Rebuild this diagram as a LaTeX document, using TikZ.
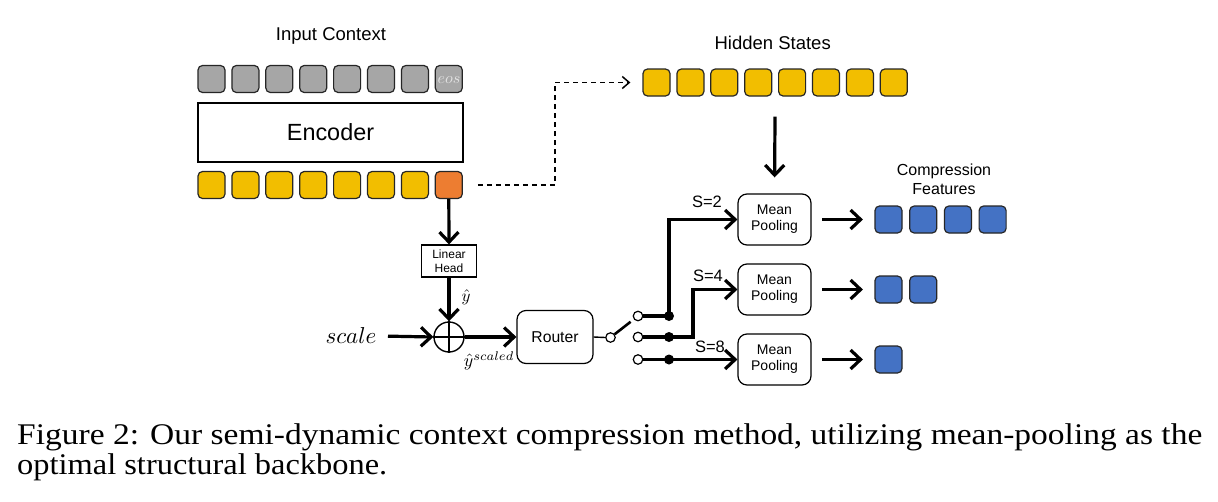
\documentclass[tikz,border=0pt]{standalone}
\usepackage{fontspec}
\setsansfont{Liberation Sans}
\newfontfamily\capfont{Liberation Serif}
\usepackage{graphicx}
\usetikzlibrary{arrows.meta}
\usetikzlibrary{calc}

\definecolor{tokgray}{RGB}{166,166,166}
\definecolor{tokyellow}{RGB}{242,190,0}
\definecolor{tokorange}{RGB}{237,125,49}
\definecolor{tokblue}{RGB}{68,114,196}

\begin{document}
\begin{tikzpicture}[x=1pt,y=-1pt,
  tok/.style={draw=black!85,line width=1.2pt,rounded corners=4.5pt,minimum size=27pt,inner sep=0pt},
  rbox/.style={draw,line width=1.2pt,rounded corners=9pt,align=center,inner sep=0pt,font=\sffamily\fontsize{14}{16}\selectfont},
  lbl/.style={font=\sffamily\fontsize{18.5}{22}\selectfont},
  slbl/.style={font=\sffamily\fontsize{16.5}{19}\selectfont},
  conn/.style={line width=3.2pt},
  arr/.style={conn,-{Straight Barb[length=10pt,width=19pt]}},
  dasharr/.style={line width=1.5pt,dash pattern=on 5pt off 4pt,-{Straight Barb[length=7pt,width=12pt]}},
  port/.style={circle,draw,fill=white,line width=1.2pt,minimum size=9.5pt,inner sep=0pt},
  joint/.style={circle,fill=black,minimum size=10pt,inner sep=0pt},
]
\useasboundingbox (0,0) rectangle (1218,501);
\fill[white] (0,0) rectangle (1218,501);

% encoder side
\node[lbl] (inctx) at (331,36) {Input Context};
\foreach \i in {1,...,8}
    \node[tok,fill=tokgray] (g\i) at ({211.5+33.9*(\i-1)},79) {};
\node[text=white!78!gray] (eos) at (449,80) {\scalebox{1.6}{$eos$}};

\node[draw,line width=1.4pt,minimum width=265pt,minimum height=59pt,inner sep=0pt,
      font=\sffamily\fontsize{23.4}{28}\selectfont] (enc) at (330.5,132.5) {Encoder};

\foreach \i in {1,...,7}
    \node[tok,fill=tokyellow] (e\i) at ({211.5+33.9*(\i-1)},185) {};
\node[tok,fill=tokorange] (e8) at (448.8,185) {};

% hidden states
\node[lbl] (hidlbl) at (772.7,42.7) {Hidden States};
\foreach \i in {1,...,8}
    \node[tok,fill=tokyellow] (h\i) at ({656.5+33.9*(\i-1)},82.5) {};

\coordinate (dashturn) at (555,82.5);
\draw[dasharr,shorten <=15pt,shorten >=12pt] (e8.east) -| (dashturn) -- (h1.west);

% head and scaling
\node[draw,line width=1.2pt,minimum width=55pt,minimum height=32pt,inner sep=0pt,align=center,
      font=\sffamily\fontsize{12}{14}\selectfont] (lin) at (449,261) {Linear\\Head};
\node[circle,draw,line width=1.4pt,minimum size=30pt,inner sep=0pt] (sum) at (449,337) {};
\draw[line width=1.2pt] (sum.north) -- (sum.south) (sum.west) -- (sum.east);

\node (scl) at (351,336) {\scalebox{2.3}{$scale$}};
\node (yh) at (466,297) {\scalebox{1.7}{$\hat{y}$}};
\node (ysc) at (489,361) {\scalebox{1.8}{$\hat{y}^{scaled}$}};

\node[rbox,minimum width=76pt,minimum height=53pt,font=\sffamily\fontsize{15.7}{18}\selectfont] (rtr) at (555,337) {Router};

\draw[arr] (e8.south) -- (lin.north);
\draw[arr] (lin.south) -- (sum.north);
\draw[arr,shorten <=8pt] (scl.east) -- (sum.west);
\draw[arr] (sum.east) -- (rtr.west);

% switch
\node[port] (piv) at (610.5,337.5) {};
\node[port] (k1) at (638,316) {};
\node[port] (k2) at (638,337) {};
\node[port] (k3) at (638,359.5) {};
\node[joint] (d1) at (669,316) {};
\node[joint] (d2) at (669,337) {};
\node[joint] (d3) at (669,359.5) {};
\coordinate (turn4) at (693,337);

\draw[line width=1.4pt] (rtr.east) -- (piv.west);
\draw[line width=2.6pt,shorten >=4pt] (piv) -- (k1);

% pooling branches
\node[rbox,minimum width=73pt,minimum height=51pt] (mp2) at (774.5,219.5) {Mean\\Pooling};
\node[rbox,minimum width=73pt,minimum height=51pt] (mp4) at (774.5,289.5) {Mean\\Pooling};
\node[rbox,minimum width=73pt,minimum height=51pt] (mp8) at (774.5,359.5) {Mean\\Pooling};

\draw[arr] (k1.east) -- (d1.center) |- (mp2.west);
\draw[arr] (k2.east) -- (turn4) |- (mp4.west);
\draw[arr] (k3.east) -- (mp8.west);

\node[slbl] (s2) at (707,202) {S=2};
\node[slbl] (s4) at (708,276) {S=4};
\node[slbl] (s8) at (710,347) {S=8};

\draw[arr,shorten <=20pt,shorten >=16pt] ($(h4.south)!0.5!(h5.south)$) -- (mp2.north);

% compression features
\node[align=center,font=\sffamily\fontsize{16}{19}\selectfont] (cfl) at (944,179.5) {Compression\\Features};
\foreach \i in {1,...,4}
    \node[tok,fill=tokblue] (fa\i) at ({888.5+34.7*(\i-1)},219.5) {};
\foreach \i in {1,2}
    \node[tok,fill=tokblue] (fb\i) at ({888.5+34.7*(\i-1)},289.5) {};
\node[tok,fill=tokblue] (fc1) at (888.5,359.5) {};

\foreach \n/\f in {2/fa1,4/fb1,8/fc1}
    \draw[arr,shorten <=10.5pt,shorten >=11.5pt] (mp\n.east) -- (\f.west);

% caption
\node[anchor=base west,inner sep=0pt,font=\capfont\fontsize{30}{32}\selectfont] (cap1) at (17,444)
    {\resizebox{1185pt}{\height}{Figure 2: Our semi-dynamic context compression method, utilizing mean-pooling as the}};
\node[anchor=base west,inner sep=0pt,font=\capfont\fontsize{30}{32}\selectfont] (cap2) at (17,474)
    {\resizebox{370pt}{\height}{optimal structural backbone.}};

\end{tikzpicture}
\end{document}
